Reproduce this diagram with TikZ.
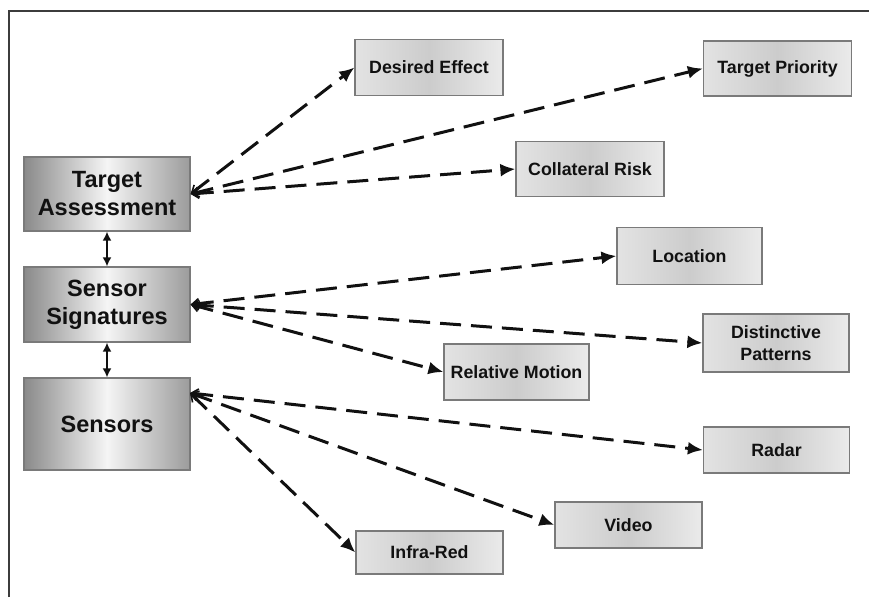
\documentclass[tikz,border=0pt]{standalone}
\usepackage{fontspec}
\setmainfont{Liberation Sans}
\usetikzlibrary{arrows.meta}
\definecolor{ink}{HTML}{111111}
\definecolor{rim}{HTML}{7A7A7A}
\definecolor{framegray}{HTML}{3C3C3C}
\tikzset{
  mainbox/.style={draw=rim, line width=1.2pt, inner sep=0pt, align=center,
    left color=gray!92, right color=gray!78, middle color=gray!8,
    text=ink, font=\fontsize{23.5}{28}\selectfont\bfseries},
  leafbox/.style={draw=rim, line width=1.2pt, inner sep=0pt, align=center,
    left color=gray!22, right color=gray!16, middle color=gray!40,
    text=ink, font=\fontsize{17.8}{22.5}\selectfont\bfseries},
  link/.style={draw=ink, line width=3pt, dash pattern=on 21pt off 10pt,
    {Straight Barb[length=7pt,width=10pt,line width=1.6pt]}-{Latex[length=15pt,width=13pt]}},
  updown/.style={draw=ink, line width=1.8pt,
    {Latex[length=9pt,width=9pt]}-{Latex[length=9pt,width=9pt]}}
}
\begin{document}
\begin{tikzpicture}[x=1pt,y=-1pt]
\useasboundingbox (0,0) rectangle (869,597);
\fill[white] (0,0) rectangle (869,597);
% outer frame: top and left rules
\draw[framegray, line width=2pt] (9,597) -- (9,10.5) -- (869,10.5);

% main stack
\node[mainbox, minimum width=166pt, minimum height=74pt] (ta) at (107,194) {Target\\Assessment};
\node[mainbox, minimum width=166pt, minimum height=75pt] (ss) at (107,304.5) {Sensor\\Signatures};
\node[mainbox, minimum width=166pt, minimum height=92pt] (sen) at (107,424) {Sensors};
\coordinate (senport) at (190,393);

% leaf boxes
\node[leafbox, minimum width=148pt, minimum height=56pt] (de) at (429,67.5) {Desired Effect};
\node[leafbox, minimum width=148pt, minimum height=55pt] (tp) at (777.5,68.5) {Target Priority};
\node[leafbox, minimum width=148pt, minimum height=55pt] (cr) at (590,169) {Collateral Risk};
\node[leafbox, minimum width=145pt, minimum height=57pt] (loc) at (689.5,256) {Location};
\node[leafbox, minimum width=146pt, minimum height=58pt] (dp) at (776,343) {Distinctive\\Patterns};
\node[leafbox, minimum width=145pt, minimum height=56pt] (rm) at (516.5,372) {Relative Motion};
\node[leafbox, minimum width=146pt, minimum height=46pt] (rad) at (776.5,450) {Radar};
\node[leafbox, minimum width=147pt, minimum height=46pt] (vid) at (628.5,525) {Video};
\node[leafbox, minimum width=147pt, minimum height=43pt] (ir) at (429.5,552.5) {Infra-Red};

% links between the stacked boxes
\draw[updown] (ta.south) -- (ss.north);
\draw[updown] (ss.south) -- (sen.north);

% dashed links to the leaves
\draw[link] (ta.east) -- (de.west);
\draw[link] (ta.east) -- (tp.west);
\draw[link] (ta.east) -- (cr.west);
\draw[link] (ss.east) -- (loc.west);
\draw[link] (ss.east) -- (dp.west);
\draw[link] (ss.east) -- (rm.west);
\draw[link] (senport) -- (rad.west);
\draw[link] (senport) -- (vid.west);
\draw[link] (senport) -- (ir.west);
\end{tikzpicture}
\end{document}
